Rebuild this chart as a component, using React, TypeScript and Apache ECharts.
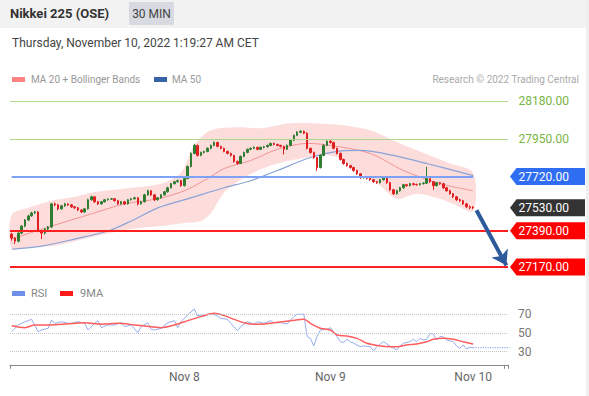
import React, { useEffect, useRef } from "react";
import * as echarts from "echarts";

const SLOTS = 150;

// [open, close, low, high] per 30-min candle
const candles: number[][] = [
  [27370, 27346, 27330, 27378], [27346, 27327, 27310, 27352], [27327, 27376, 27320, 27382], [27376, 27419, 27370, 27425],
  [27419, 27456, 27412, 27462], [27456, 27481, 27450, 27488], [27481, 27499, 27476, 27506], [27499, 27505, 27492, 27512],
  [27505, 27389, 27382, 27510], [27389, 27376, 27340, 27395], [27376, 27401, 27368, 27407], [27401, 27413, 27395, 27420],
  [27413, 27554, 27408, 27560], [27554, 27548, 27540, 27562], [27548, 27524, 27515, 27553], [27524, 27542, 27518, 27548],
  [27542, 27554, 27536, 27560], [27554, 27548, 27542, 27558], [27548, 27536, 27530, 27552], [27536, 27530, 27524, 27540],
  [27530, 27517, 27510, 27535], [27517, 27505, 27498, 27520], [27505, 27524, 27500, 27530], [27524, 27579, 27520, 27585],
  [27579, 27597, 27574, 27604], [27597, 27567, 27560, 27600], [27567, 27554, 27548, 27572], [27554, 27567, 27550, 27572],
  [27567, 27579, 27562, 27584], [27579, 27583, 27574, 27588], [27583, 27585, 27578, 27590], [27585, 27573, 27568, 27590],
  [27573, 27554, 27548, 27578], [27554, 27567, 27550, 27572], [27567, 27554, 27548, 27572], [27554, 27579, 27550, 27584],
  [27579, 27585, 27574, 27590], [27585, 27591, 27580, 27597], [27591, 27554, 27545, 27595], [27554, 27567, 27550, 27572],
  [27567, 27609, 27562, 27615], [27609, 27634, 27604, 27640], [27634, 27609, 27602, 27638], [27609, 27579, 27570, 27612],
  [27579, 27591, 27574, 27596], [27591, 27609, 27586, 27614], [27609, 27628, 27604, 27633], [27628, 27652, 27622, 27658],
  [27652, 27677, 27648, 27682], [27677, 27689, 27672, 27694], [27689, 27695, 27684, 27702], [27695, 27665, 27658, 27700],
  [27665, 27708, 27660, 27714], [27708, 27781, 27704, 27788], [27781, 27861, 27776, 27868], [27861, 27910, 27855, 27920],
  [27910, 27849, 27842, 27915], [27849, 27867, 27844, 27872], [27867, 27873, 27860, 27878], [27873, 27892, 27868, 27898],
  [27892, 27910, 27886, 27915], [27910, 27928, 27904, 27934], [27928, 27904, 27898, 27932], [27904, 27892, 27886, 27908],
  [27892, 27873, 27868, 27896], [27873, 27861, 27855, 27878], [27861, 27849, 27842, 27866], [27849, 27812, 27805, 27852],
  [27812, 27800, 27792, 27818], [27800, 27843, 27796, 27848], [27843, 27867, 27838, 27872], [27867, 27886, 27862, 27890],
  [27886, 27892, 27880, 27897], [27892, 27898, 27887, 27904], [27898, 27886, 27880, 27902], [27886, 27898, 27882, 27903],
  [27898, 27902, 27892, 27907], [27902, 27910, 27896, 27915], [27910, 27922, 27905, 27927], [27922, 27916, 27910, 27926],
  [27916, 27910, 27905, 27920], [27910, 27904, 27898, 27914], [27904, 27886, 27855, 27908], [27886, 27910, 27882, 27915],
  [27910, 27941, 27905, 27946], [27941, 27971, 27936, 27976], [27971, 27990, 27966, 27996], [27990, 27996, 27984, 28002],
  [27996, 27984, 27978, 28000], [27984, 27892, 27886, 27990], [27892, 27867, 27860, 27896], [27867, 27836, 27828, 27872],
  [27836, 27775, 27755, 27840], [27775, 27849, 27770, 27855], [27849, 27910, 27844, 27916], [27910, 27935, 27905, 27940],
  [27935, 27928, 27920, 27945], [27928, 27892, 27886, 27932], [27892, 27861, 27855, 27896], [27861, 27824, 27818, 27866],
  [27824, 27800, 27792, 27830], [27800, 27787, 27780, 27806], [27787, 27775, 27768, 27792], [27775, 27757, 27750, 27780],
  [27757, 27738, 27730, 27762], [27738, 27714, 27706, 27742], [27714, 27718, 27708, 27724], [27718, 27710, 27702, 27722],
  [27710, 27701, 27694, 27716], [27701, 27689, 27682, 27706], [27689, 27683, 27676, 27694], [27683, 27701, 27678, 27706],
  [27701, 27714, 27696, 27720], [27714, 27683, 27676, 27718], [27683, 27640, 27632, 27688], [27640, 27616, 27608, 27645],
  [27616, 27634, 27610, 27640], [27634, 27652, 27628, 27658], [27652, 27671, 27646, 27676], [27671, 27665, 27658, 27676],
  [27665, 27677, 27660, 27682], [27677, 27672, 27666, 27682], [27672, 27671, 27664, 27678], [27671, 27677, 27666, 27682],
  [27677, 27680, 27672, 27686], [27680, 27708, 27675, 27780], [27708, 27689, 27682, 27714], [27689, 27665, 27640, 27694],
  [27665, 27683, 27660, 27688], [27683, 27677, 27670, 27688], [27677, 27652, 27646, 27682], [27652, 27634, 27628, 27657],
  [27634, 27616, 27610, 27640], [27616, 27597, 27590, 27620], [27597, 27579, 27572, 27602], [27579, 27573, 27566, 27586],
  [27573, 27554, 27548, 27578], [27554, 27536, 27530, 27560], [27536, 27530, 27522, 27545], [27535, 27530, 27522, 27540],
];

// [candle index, value]
const ma20: number[][] = [
  [0, 27340], [12, 27419], [24, 27493], [34, 27554], [44, 27585], [52, 27634], [59, 27708], [64, 27769],
  [72, 27818], [80, 27886], [89, 27922], [96, 27910], [108, 27861], [118, 27757], [129, 27677], [139, 27634],
];
const bbUpper: number[][] = [
  [0, 27487], [5, 27530], [12, 27573], [19, 27597], [24, 27622], [36, 27652], [45, 27677], [51, 27744],
  [55, 27910], [60, 28002], [69, 28020], [75, 28014], [84, 28045], [96, 28039], [102, 28027], [108, 28002],
  [117, 27922], [126, 27849], [132, 27800], [139, 27744],
];
const bbLower: number[][] = [
  [0, 27284], [5, 27290], [12, 27297], [19, 27327], [24, 27352], [36, 27401], [45, 27419], [52, 27438],
  [57, 27450], [60, 27499], [64, 27622], [70, 27714], [78, 27787], [87, 27830], [96, 27849], [100, 27818],
  [105, 27744], [111, 27665], [116, 27585], [122, 27616], [129, 27585], [133, 27554], [139, 27511],
];
const ma50: number[][] = [
  [0, 27278], [9, 27297], [19, 27340], [29, 27389], [36, 27450], [44, 27530], [54, 27591], [64, 27652],
  [72, 27695], [80, 27757], [90, 27836], [98, 27873], [105, 27879], [115, 27849], [125, 27800], [139, 27726],
];

const rsi: number[][] = [
  [0, 51.4], [2, 58.6], [4, 62.1], [6, 64.6], [8, 51.4], [9, 53.2], [11, 55], [12, 63.9], [13, 60.3], [15, 62.1],
  [17, 60.3], [18, 60.3], [20, 62.1], [22, 60.3], [23, 53.2], [25, 60.3], [26, 63.2], [27, 55.7], [29, 58.6], [31, 58.6],
  [33, 61], [34, 56.8], [36, 58.6], [38, 50.4], [39, 56.8], [41, 61], [42, 53.9], [43, 53.2], [45, 55], [47, 61],
  [49, 63.2], [50, 55.7], [51, 62.1], [53, 69.3], [55, 75.7], [56, 68.2], [57, 69.3], [58, 68.2], [60, 71], [62, 68.2],
  [63, 65.7], [65, 64.6], [66, 60.3], [68, 52.5], [69, 56.8], [71, 62.1], [73, 59.6], [74, 62.1], [76, 60.3], [78, 63.2],
  [79, 61], [81, 61], [83, 59.6], [84, 63.9], [85, 67.5], [86, 70], [88, 70], [89, 46.1], [90, 44.3], [91, 36.2],
  [92, 46.1], [93, 53.2], [95, 53.9], [96, 55.7], [97, 51.4], [98, 46.1], [99, 40.7], [100, 40], [101, 43.2], [102, 40.7],
  [103, 39], [105, 35.4], [106, 36.2], [108, 35.4], [109, 31.2], [110, 35.4], [112, 40.7], [113, 38.3], [115, 33.7], [116, 31.9],
  [117, 36.2], [118, 39], [120, 40.7], [121, 43.2], [122, 40.7], [123, 44.3], [124, 42.5], [125, 43.2], [126, 49.6], [127, 48.9],
  [128, 42.5], [129, 46.1], [130, 46.1], [131, 42.5], [133, 40.7], [134, 36.2], [135, 33.7], [136, 37.2], [137, 33], [138, 34.7],
  [139, 34.4],
];
const rsiMa9: number[][] = [
  [0, 57.8], [4, 55.7], [7, 58.6], [12, 58.6], [22, 61], [27, 59.3], [32, 60.3], [37, 58.6], [42, 56.8], [45, 55.7],
  [49, 58.6], [53, 63.2], [57, 67.5], [61, 71], [64, 68.6], [67, 64.6], [70, 61], [73, 59.3], [76, 59.6], [79, 61],
  [84, 63], [88, 64.6], [90, 60.3], [93, 55], [96, 53.2], [98, 47.9], [101, 46.8], [104, 44.3], [107, 39], [111, 36.2],
  [114, 35.4], [116, 35.4], [119, 37.2], [122, 38.3], [125, 40.7], [127, 43.2], [130, 44.3], [133, 43.2], [136, 40.7], [139, 38.3],
];

const resistance = [28180, 27950];
const pivot = 27720;
const lastPrice = 27530;
const supports = [27390, 27170];
const rsiLevels = [70, 50, 30];
const dayTicks = ["Nov 8", "Nov 9", "Nov 10"];
const dayTickIndex = [52, 96, 139];

const FONT = "Roboto, 'Open Sans', sans-serif";

export default function App() {
  const ref = useRef<HTMLDivElement>(null);
  useEffect(() => {
    if (!ref.current) return;
    const chart = echarts.init(ref.current, undefined, { renderer: "svg" });
    const categories = Array.from({ length: SLOTS }, (_, i) => String(i));
    const lastIdx = candles.length - 1;
    const lastRsi = rsi[rsi.length - 1];

    chart.setOption({
      animation: false,
      textStyle: { fontFamily: FONT },
      grid: [
        { left: 10, right: 81, top: 89.5, height: 189 },
        { left: 10, right: 81, top: 301.2, height: 63.6 },
      ],
      xAxis: [
        { type: "category", gridIndex: 0, data: categories, boundaryGap: true, show: false },
        {
          type: "category",
          gridIndex: 1,
          data: categories,
          boundaryGap: true,
          axisLine: { lineStyle: { color: "#888", width: 1 } },
          axisTick: {
            show: true,
            length: 4,
            interval: (i: number) => i === 0 || i === SLOTS - 1,
            lineStyle: { color: "#888" },
          },
          axisLabel: {
            interval: (i: number) => dayTickIndex.includes(i),
            formatter: (_v: string, i: number) => {
              const k = dayTickIndex.indexOf(i);
              return k >= 0 ? dayTicks[k] : "";
            },
            color: "#666",
            fontSize: 12,
            margin: 6,
            fontFamily: FONT,
          },
          splitLine: { show: false },
        },
      ],
      yAxis: [
        { type: "value", gridIndex: 0, min: 27100, max: 28250, show: false },
        { type: "value", gridIndex: 1, min: 16, max: 84, show: false },
      ],
      series: [
        {
          type: "custom",
          name: "band",
          xAxisIndex: 0,
          yAxisIndex: 0,
          silent: true,
          z: 1,
          data: [[0, 27500]],
          renderItem: (_p: any, api: any) => {
            const up = bbUpper.map(([i, v]) => api.coord([i, v]));
            const lo = bbLower.map(([i, v]) => api.coord([i, v])).reverse();
            return {
              type: "polygon",
              shape: { points: up.concat(lo), smooth: 0.3 },
              style: { fill: "#fddcdc" },
            };
          },
        },
        {
          type: "line",
          name: "MA 20 + Bollinger Bands",
          xAxisIndex: 0,
          yAxisIndex: 0,
          data: ma20,
          smooth: 0.3,
          symbol: "none",
          z: 2,
          lineStyle: { color: "#f39494", width: 1 },
        },
        {
          type: "line",
          name: "MA 50",
          xAxisIndex: 0,
          yAxisIndex: 0,
          data: ma50,
          smooth: 0.3,
          symbol: "none",
          z: 2,
          lineStyle: { color: "#8aa3d6", width: 1.2 },
        },
        {
          type: "candlestick",
          name: "Nikkei 225",
          xAxisIndex: 0,
          yAxisIndex: 0,
          data: candles,
          barWidth: 2,
          z: 3,
          itemStyle: {
            color: "#2f7d32",
            color0: "#e02020",
            borderColor: "#2f7d32",
            borderColor0: "#e02020",
            borderWidth: 1,
          },
          markLine: {
            silent: true,
            symbol: "none",
            label: { show: false },
            data: [
              ...resistance.map((v) => ({ yAxis: v, lineStyle: { color: "#b1d78f", width: 1, type: "solid" } })),
              [
                { coord: [-0.5, pivot], lineStyle: { color: "#7ea2f6", width: 2, type: "solid" } },
                { coord: [lastIdx, pivot] },
              ],
              [
                { coord: [lastIdx, pivot], lineStyle: { color: "#7ea2f6", width: 1.5, type: "dotted" } },
                { coord: [SLOTS - 0.5, pivot] },
              ],
              [
                { coord: [lastIdx, lastPrice], lineStyle: { color: "#999", width: 1.2, type: "dotted" } },
                { coord: [SLOTS - 0.5, lastPrice] },
              ],
              ...supports.map((v) => ({ yAxis: v, lineStyle: { color: "#ff2020", width: 2, type: "solid" } })),
              [
                { coord: [lastIdx + 1, lastPrice - 15], symbol: "none", lineStyle: { color: "#2d5a9b", width: 4, type: "solid" } },
                { coord: [SLOTS - 0.8, supports[1] + 10], symbol: "arrow", symbolSize: [14, 14] },
              ],
            ],
          },
        },
        {
          type: "line",
          name: "RSI",
          xAxisIndex: 1,
          yAxisIndex: 1,
          data: rsi,
          symbol: "none",
          z: 3,
          lineStyle: { color: "#95adef", width: 1 },
          markLine: {
            silent: true,
            symbol: "none",
            lineStyle: { color: "#c4c4c4", width: 1, type: "dotted" },
            label: { show: true, position: "end", formatter: "{c}", color: "#777", fontSize: 12, distance: 10, fontFamily: FONT },
            data: rsiLevels.map((v) => ({ yAxis: v })),
          },
        },
        {
          type: "line",
          name: "9MA",
          xAxisIndex: 1,
          yAxisIndex: 1,
          data: rsiMa9,
          smooth: 0.3,
          symbol: "none",
          z: 4,
          lineStyle: { color: "#ff5c5c", width: 1.5 },
        },
        {
          type: "line",
          name: "RSI last",
          xAxisIndex: 1,
          yAxisIndex: 1,
          data: [lastRsi, [SLOTS - 0.5, lastRsi[1]]],
          symbol: "none",
          z: 3,
          lineStyle: { color: "#95adef", width: 1.2, type: "dotted" },
        },
      ],
    });

    const yOf = (v: number) => chart.convertToPixel({ yAxisIndex: 0 }, v) as number;
    const tag = (v: number, fill: string) => {
      const y = yOf(v);
      return [
        {
          type: "polygon",
          silent: true,
          z: 10,
          shape: { points: [[510, y], [516.5, y - 8.5], [585, y - 8.5], [585, y + 8.5], [516.5, y + 8.5]] },
          style: { fill },
        },
        {
          type: "text",
          silent: true,
          z: 11,
          x: 518.5,
          y,
          style: { text: v.toFixed(2), fill: "#fff", font: `12px ${FONT}`, verticalAlign: "middle", align: "left" },
        },
      ];
    };
    const greenText = (v: number) => ({
      type: "text",
      silent: true,
      z: 11,
      x: 518.5,
      y: yOf(v),
      style: { text: v.toFixed(2), fill: "#78b445", font: `12px ${FONT}`, verticalAlign: "middle", align: "left" },
    });

    const label = (text: string, x: number, y: number, fill: string, size: number, extra: any = {}) => ({
      type: "text",
      silent: true,
      x,
      y,
      style: { text, fill, font: `${extra.bold ? "bold " : ""}${size}px ${FONT}`, verticalAlign: "middle", align: extra.align || "left" },
    });
    const swatch = (x: number, y: number, fill: string) => ({
      type: "rect",
      silent: true,
      shape: { x, y, width: 13, height: 5 },
      style: { fill },
    });

    chart.setOption({
      graphic: [
        { type: "rect", silent: true, z: 0, shape: { x: 0, y: 0, width: 589, height: 28 }, style: { fill: "#f2f2f2" } },
        { type: "rect", silent: true, z: 0, shape: { x: 586, y: 0, width: 3, height: 396 }, style: { fill: "#efefef" } },
        { type: "rect", silent: true, shape: { x: 129, y: 2, width: 45, height: 23 }, style: { fill: "#d7dbe1" } },
        label("Nikkei 225 (OSE)", 10, 13.5, "#333", 13, { bold: true }),
        label("30 MIN", 151.5, 13.5, "#444", 12, { align: "center" }),
        label("Thursday, November 10, 2022 1:19:27 AM CET", 12, 43, "#444", 12),
        swatch(12, 77, "#ff8282"),
        label("MA 20 + Bollinger Bands", 31, 79.5, "#999", 10),
        swatch(154, 77, "#3763a8"),
        label("MA 50", 172, 79.5, "#999", 10),
        label("Research \u00a9 2022 Trading Central", 579, 79.5, "#aaa", 10, { align: "right" }),
        swatch(12, 291, "#6f90e8"),
        label("RSI", 31, 293.5, "#888", 11),
        swatch(60, 291, "#ff1a1a"),
        label("9MA", 80, 293.5, "#888", 11),
        ...resistance.map(greenText),
        ...tag(pivot, "#2f6ef2"),
        ...tag(lastPrice, "#333333"),
        ...supports.flatMap((v) => tag(v, "#ff0000")),
      ],
    });

    return () => chart.dispose();
  }, []);

  return (
    <div
      ref={ref}
      style={{ position: "absolute", left: 0, top: 0, width: 589, height: 396, background: "#fff" }}
    />
  );
}
